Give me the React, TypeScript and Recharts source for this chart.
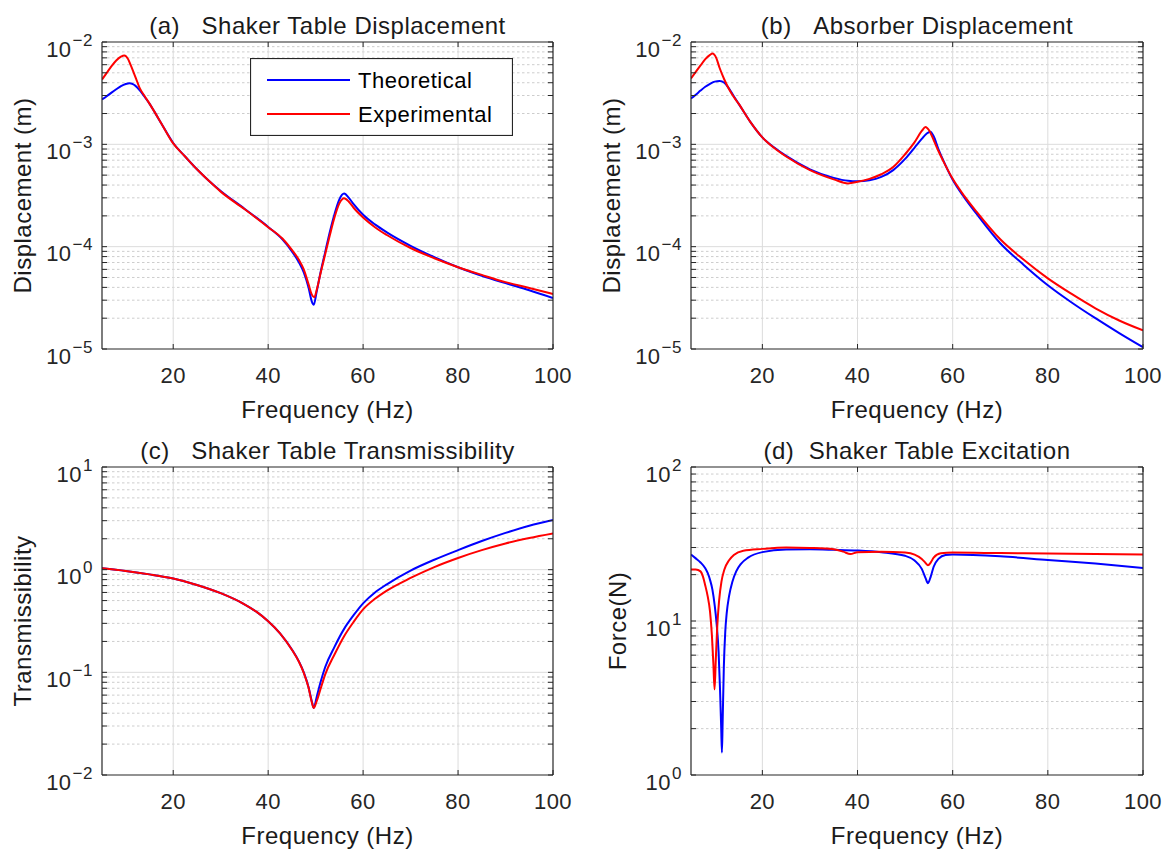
import React from 'react';
import { LineChart, Line, XAxis, YAxis, ReferenceLine, Legend } from 'recharts';

const FONT = '"Liberation Sans", Arial, Helvetica, sans-serif';
const AX = '#262626';
const TXT = '#262626';
const GRID_MAJOR = '#dcdcdc';
const GRID_MINOR = '#cdcdcd';
const BLUE = '#0000ff';
const RED = '#ff0000';
const TICK_LEN = 5;

// ---------- shared axis values ----------
const xTicks = [20, 40, 60, 80, 100];
const xGrid = [20, 40, 60, 80];
const xDomain = [5, 100];

// ---------- (a) Shaker Table Displacement ----------
const freqAT = [5, 6, 7, 8, 9, 10, 10.8, 11.5, 12, 13, 14, 15, 16, 17.5, 20, 22.5, 25, 27.5, 30, 35, 40, 43, 45, 46.5, 47.5, 48.5, 49.2, 49.6, 50.2, 51, 52, 53, 54, 55, 56, 57, 58, 60, 62.5, 65, 70, 75, 80, 85, 90, 95, 100];
const dispAT = [2.74e-3, 2.95e-3, 3.2e-3, 3.45e-3, 3.7e-3, 3.88e-3, 3.95e-3, 3.88e-3, 3.75e-3, 3.35e-3, 2.9e-3, 2.5e-3, 2.1e-3, 1.6e-3, 1.03e-3, 7.6e-4, 5.7e-4, 4.4e-4, 3.5e-4, 2.35e-4, 1.56e-4, 1.18e-4, 9.0e-5, 7.0e-5, 5.6e-5, 4.0e-5, 2.9e-5, 2.7e-5, 3.6e-5, 5.5e-5, 8.8e-5, 1.4e-4, 2.1e-4, 2.9e-4, 3.3e-4, 3.0e-4, 2.6e-4, 2.05e-4, 1.65e-4, 1.38e-4, 1.02e-4, 7.9e-5, 6.3e-5, 5.2e-5, 4.4e-5, 3.75e-5, 3.15e-5];
const freqAE = [5, 6, 7, 8, 9, 9.7, 10.5, 11, 12, 13, 14, 15, 16, 17.5, 20, 22.5, 25, 27.5, 30, 35, 40, 43, 45, 46.5, 47.5, 48.5, 49.2, 49.7, 50.3, 51, 52, 53, 54, 55, 56, 57, 58, 60, 62.5, 65, 70, 75, 80, 85, 90, 95, 100];
const dispAE = [4.3e-3, 5.0e-3, 5.8e-3, 6.6e-3, 7.2e-3, 7.4e-3, 6.8e-3, 6.0e-3, 4.6e-3, 3.5e-3, 2.95e-3, 2.5e-3, 2.1e-3, 1.6e-3, 1.02e-3, 7.6e-4, 5.7e-4, 4.4e-4, 3.45e-4, 2.33e-4, 1.55e-4, 1.2e-4, 9.3e-5, 7.4e-5, 6.0e-5, 4.3e-5, 3.4e-5, 3.2e-5, 3.9e-5, 5.4e-5, 8.4e-5, 1.3e-4, 1.95e-4, 2.65e-4, 2.97e-4, 2.75e-4, 2.4e-4, 1.93e-4, 1.55e-4, 1.3e-4, 9.7e-5, 7.7e-5, 6.3e-5, 5.3e-5, 4.5e-5, 3.95e-5, 3.45e-5];
const yMajorsA = [1e-5, 1e-4, 1e-3, 1e-2];

// ---------- (b) Absorber Displacement ----------
const freqBT = [5, 6, 7, 8, 9, 10, 11, 12, 13, 14, 15, 17.5, 20, 22.5, 25, 30, 35, 38, 40, 42.5, 45, 47.5, 50, 52, 53.5, 54.5, 55.3, 56, 57, 58, 60, 62.5, 65, 70, 75, 80, 85, 90, 95, 100];
const dispBT = [2.8e-3, 3.05e-3, 3.35e-3, 3.65e-3, 3.9e-3, 4.1e-3, 4.15e-3, 4.0e-3, 3.5e-3, 2.95e-3, 2.5e-3, 1.65e-3, 1.17e-3, 9.3e-4, 7.7e-4, 5.7e-4, 4.7e-4, 4.4e-4, 4.35e-4, 4.45e-4, 4.8e-4, 5.6e-4, 7.2e-4, 9.3e-4, 1.13e-3, 1.27e-3, 1.33e-3, 1.2e-3, 9.0e-4, 7.0e-4, 4.5e-4, 3.0e-4, 2.1e-4, 1.08e-4, 6.6e-5, 4.2e-5, 2.85e-5, 2.0e-5, 1.43e-5, 1.04e-5];
const freqBE = [5, 6, 7, 8, 9, 9.5, 10.3, 11, 12, 13, 14, 15, 17.5, 20, 22.5, 25, 30, 35, 38, 40, 42.5, 45, 47.5, 50, 52, 53.5, 54.3, 55, 56, 57, 58, 60, 62.5, 65, 70, 75, 80, 85, 90, 95, 100];
const dispBE = [4.4e-3, 5.1e-3, 5.9e-3, 6.8e-3, 7.5e-3, 7.7e-3, 7.0e-3, 5.6e-3, 4.3e-3, 3.45e-3, 2.9e-3, 2.5e-3, 1.65e-3, 1.17e-3, 9.2e-4, 7.6e-4, 5.6e-4, 4.55e-4, 4.15e-4, 4.3e-4, 4.6e-4, 5.1e-4, 6.0e-4, 8.0e-4, 1.05e-3, 1.35e-3, 1.48e-3, 1.38e-3, 1.1e-3, 8.6e-4, 6.9e-4, 4.6e-4, 3.1e-4, 2.2e-4, 1.18e-4, 7.4e-5, 4.9e-5, 3.45e-5, 2.5e-5, 1.9e-5, 1.52e-5];
const yMajorsB = [1e-5, 1e-4, 1e-3, 1e-2];

// ---------- (c) Shaker Table Transmissibility ----------
const freqC = [5, 10, 15, 20, 25, 30, 35, 37.5, 40, 42.5, 45, 46.5, 47.5, 48.5, 49.2, 49.6, 50.2, 51, 52, 54, 56, 58, 60, 62.5, 65, 70, 75, 80, 85, 90, 95, 100];
const transCT = [1.03, 0.97, 0.9, 0.82, 0.71, 0.59, 0.46, 0.39, 0.315, 0.24, 0.167, 0.127, 0.1, 0.072, 0.052, 0.045, 0.057, 0.079, 0.112, 0.178, 0.265, 0.36, 0.47, 0.6, 0.72, 0.98, 1.25, 1.55, 1.9, 2.28, 2.68, 3.05];
const transCE = [1.03, 0.97, 0.9, 0.82, 0.71, 0.59, 0.46, 0.39, 0.315, 0.24, 0.166, 0.126, 0.099, 0.071, 0.051, 0.045, 0.052, 0.068, 0.095, 0.15, 0.225, 0.31, 0.41, 0.52, 0.625, 0.83, 1.06, 1.3, 1.55, 1.8, 2.03, 2.25];
const yMajorsC = [1e-2, 1e-1, 1, 10];

// ---------- (d) Shaker Table Excitation ----------
const freqDT = [5, 6, 7, 8, 8.5, 9, 9.5, 10, 10.4, 10.8, 11.1, 11.35, 11.5, 11.65, 11.9, 12.2, 12.5, 13, 13.7, 14.5, 15.5, 17, 20, 25, 30, 35, 40, 45, 50, 52, 53.5, 54.3, 54.8, 55.4, 56, 57, 58.5, 60, 70, 80, 90, 100];
const forceDT = [27, 25.5, 24, 22, 20.5, 18.5, 16, 12.5, 9.5, 6.3, 3.6, 2.0, 1.4, 2.2, 5.0, 8.5, 11.2, 14.5, 18, 21, 23.5, 25.8, 28, 29.1, 29.2, 29, 28.7, 28, 26.5, 24.7, 21.8, 19, 17.6, 19.5, 22.5, 25.3, 26.8, 27, 26.3, 24.9, 23.6, 22.1];
const freqDE = [5, 6, 7, 7.5, 8, 8.5, 9, 9.4, 9.7, 9.95, 10.2, 10.5, 10.9, 11.4, 12, 13, 14, 16, 20, 25, 30, 35, 37, 38.5, 40, 45, 50, 52, 53.5, 54.3, 54.8, 55.4, 56, 57.5, 60, 70, 80, 90, 100];
const forceDE = [21.6, 21.6, 21, 19.5, 17, 14.5, 11.5, 8, 5.3, 3.6, 5.5, 9, 13.5, 18, 21.5, 24.8, 26.8, 28.6, 29.4, 30, 29.8, 29.2, 28.2, 27.2, 28, 28.2, 27.8, 27, 25.3, 23.8, 23, 24, 25.8, 27.5, 27.8, 27.6, 27.4, 27.2, 27];
const yMajorsD = [1, 10, 100];

const seriesNames = ['Theoretical', 'Experimental'];

type Pt = { f: number; v: number };
const zip = (f: number[], v: number[]): Pt[] => f.map((x, i) => ({ f: x, v: v[i] }));

const minorsOf = (majors: number[]) => {
  const out: number[] = [];
  for (let i = 0; i < majors.length - 1; i++) {
    for (let k = 2; k <= 9; k++) out.push(majors[i] * k);
  }
  return out;
};

const isPow10 = (v: number) => {
  const l = Math.log10(v);
  return Math.abs(l - Math.round(l)) < 1e-9;
};

// ---------- tick renderers ----------
const BottomTick = (props: any) => {
  const { x, y, payload } = props;
  return (
    <g>
      <line x1={x} x2={x} y1={y} y2={y - TICK_LEN} stroke={AX} strokeWidth={1} />
      <text x={x} y={y + 34} textAnchor="middle" fontSize={22} fontFamily={FONT} fill={TXT} letterSpacing={0.5}>
        {payload.value}
      </text>
    </g>
  );
};

const TopTick = (props: any) => {
  const { x, y } = props;
  return <line x1={x} x2={x} y1={y} y2={y + TICK_LEN} stroke={AX} strokeWidth={1} />;
};

const RightTick = (props: any) => {
  const { x, y } = props;
  return <line x1={x} x2={x - TICK_LEN} y1={y} y2={y} stroke={AX} strokeWidth={1} />;
};

const LeftTick = (props: any) => {
  const { x, y, payload } = props;
  const v = payload.value as number;
  const major = isPow10(v);
  const e = Math.round(Math.log10(v));
  const expText = e < 0 ? `\u2212${-e}` : `${e}`;
  return (
    <g>
      <line x1={x} x2={x + TICK_LEN} y1={y} y2={y} stroke={AX} strokeWidth={1} />
      {major && (
        <text x={x - 9} y={y + 14.5} textAnchor="end" fontSize={22} fontFamily={FONT} fill={TXT} letterSpacing={0.5}>
          <tspan>10</tspan>
          <tspan dx={1} dy={-11} fontSize={17}>{expText}</tspan>
        </text>
      )}
    </g>
  );
};

const LegendBox = (props: any) => {
  const items = [...(props.payload || [])].sort(
    (a: any, b: any) => seriesNames.indexOf(a.value) - seriesNames.indexOf(b.value)
  );
  return (
    <svg width={263} height={78} style={{ display: 'block' }}>
      <rect x={0.5} y={0.5} width={262} height={77} fill="#ffffff" stroke={AX} strokeWidth={1.2} />
      {items.map((it: any, i: number) => (
        <g key={it.value}>
          <line x1={17} x2={100} y1={22 + i * 34} y2={22 + i * 34} stroke={it.color} strokeWidth={2} />
          <text x={108} y={30 + i * 34} fontSize={22} fontFamily={FONT} fill="#000" letterSpacing={0.5}>
            {it.value}
          </text>
        </g>
      ))}
    </svg>
  );
};

type PanelProps = {
  left: number;
  top: number;
  width: number;
  height: number;
  yLeftW: number;
  yRightW: number;
  xTopH: number;
  xBottomH: number;
  title: string;
  yLabel: string;
  yLabelOff: number;
  yMajors: number[];
  theo: Pt[];
  expt: Pt[];
  legend?: boolean;
};

function Panel(p: PanelProps) {
  const minors = minorsOf(p.yMajors);
  const yTicks = [...p.yMajors, ...minors].sort((a, b) => a - b);
  const yDomain = [p.yMajors[0], p.yMajors[p.yMajors.length - 1]];
  const plotL = p.yLeftW;
  const plotR = p.width - p.yRightW;
  const plotT = p.xTopH;
  const plotB = p.height - p.xBottomH;
  const cx = (plotL + plotR) / 2;
  const cy = (plotT + plotB) / 2;
  const innerMajors = p.yMajors.slice(1, -1);

  const titleLabel = () => (
    <text x={cx} y={plotT - 8.5} textAnchor="middle" fontSize={24} fontFamily={FONT} fill="#1a1a1a" letterSpacing={0.5}>
      {p.title}
    </text>
  );
  const xLabel = () => (
    <text x={cx} y={plotB + 69} textAnchor="middle" fontSize={24} fontFamily={FONT} fill="#1a1a1a" letterSpacing={0.5}>
      Frequency (Hz)
    </text>
  );
  const bx = plotL - p.yLabelOff;
  const yLabel = () => (
    <text
      x={bx}
      y={cy}
      transform={`rotate(-90, ${bx}, ${cy})`}
      textAnchor="middle"
      fontSize={24}
      fontFamily={FONT}
      fill="#1a1a1a"
      letterSpacing={0.5}
    >
      {p.yLabel}
    </text>
  );

  return (
    <div style={{ position: 'absolute', left: p.left, top: p.top, width: p.width, height: p.height }}>
      <LineChart width={p.width} height={p.height} margin={{ top: 0, right: 0, bottom: 0, left: 0 }}>
        <XAxis
          xAxisId="b"
          dataKey="f"
          type="number"
          domain={xDomain}
          ticks={xTicks}
          interval={0}
          allowDataOverflow
          orientation="bottom"
          height={p.xBottomH}
          tickSize={0}
          tickMargin={0}
          tickLine={false}
          axisLine={{ stroke: AX, strokeWidth: 1.2 }}
          tick={<BottomTick />}
          label={xLabel}
        />
        <XAxis
          xAxisId="t"
          dataKey="f"
          type="number"
          domain={xDomain}
          ticks={xTicks}
          interval={0}
          allowDataOverflow
          orientation="top"
          height={p.xTopH}
          tickSize={0}
          tickMargin={0}
          tickLine={false}
          axisLine={{ stroke: AX, strokeWidth: 1.2 }}
          tick={<TopTick />}
          label={titleLabel}
        />
        <YAxis
          yAxisId="l"
          type="number"
          scale="log"
          domain={yDomain}
          ticks={yTicks}
          interval={0}
          allowDataOverflow
          orientation="left"
          width={p.yLeftW}
          tickSize={0}
          tickMargin={0}
          tickLine={false}
          axisLine={{ stroke: AX, strokeWidth: 1.2 }}
          tick={<LeftTick />}
          label={yLabel}
        />
        <YAxis
          yAxisId="r"
          type="number"
          scale="log"
          domain={yDomain}
          ticks={yTicks}
          interval={0}
          allowDataOverflow
          orientation="right"
          width={p.yRightW}
          tickSize={0}
          tickMargin={0}
          tickLine={false}
          axisLine={{ stroke: AX, strokeWidth: 1.2 }}
          tick={<RightTick />}
        />
        {minors.map((v) => (
          <ReferenceLine key={`mn${v}`} xAxisId="b" yAxisId="l" y={v} stroke={GRID_MINOR} strokeWidth={1} strokeDasharray="2.5 2.5" />
        ))}
        {innerMajors.map((v) => (
          <ReferenceLine key={`mj${v}`} xAxisId="b" yAxisId="l" y={v} stroke={GRID_MAJOR} strokeWidth={1} />
        ))}
        {xGrid.map((v) => (
          <ReferenceLine key={`gx${v}`} xAxisId="b" yAxisId="l" x={v} stroke={GRID_MAJOR} strokeWidth={1} />
        ))}
        <Line
          name={seriesNames[0]}
          data={p.theo}
          dataKey="v"
          xAxisId="b"
          yAxisId="l"
          type="monotone"
          stroke={BLUE}
          strokeWidth={2}
          dot={false}
          activeDot={false}
          isAnimationActive={false}
        />
        <Line
          name={seriesNames[1]}
          data={p.expt}
          dataKey="v"
          xAxisId="b"
          yAxisId="l"
          type="monotone"
          stroke={RED}
          strokeWidth={2}
          dot={false}
          activeDot={false}
          isAnimationActive={false}
        />
        {p.legend && (
          <Legend
            layout="vertical"
            align="center"
            verticalAlign="middle"
            content={LegendBox}
            wrapperStyle={{ left: 250, top: 58, width: 263, height: 78, margin: 0, padding: 0 }}
          />
        )}
      </LineChart>
    </div>
  );
}

export default function App() {
  return (
    <div
      style={{
        position: 'absolute',
        left: 0,
        top: 0,
        width: 1164,
        height: 851,
        background: '#ffffff',
        fontFamily: FONT,
        overflow: 'hidden',
      }}
    >
      <Panel
        left={0}
        top={0}
        width={582}
        height={425}
        yLeftW={102}
        yRightW={29}
        xTopH={42}
        xBottomH={76}
        title={'(a)\u00a0\u00a0\u00a0Shaker Table Displacement'}
        yLabel="Displacement (m)"
        yLabelOff={71}
        yMajors={yMajorsA}
        theo={zip(freqAT, dispAT)}
        expt={zip(freqAE, dispAE)}
        legend
      />
      <Panel
        left={582}
        top={0}
        width={582}
        height={425}
        yLeftW={109}
        yRightW={21}
        xTopH={42}
        xBottomH={76}
        title={'(b)\u00a0\u00a0\u00a0Absorber Displacement'}
        yLabel="Displacement (m)"
        yLabelOff={71}
        yMajors={yMajorsB}
        theo={zip(freqBT, dispBT)}
        expt={zip(freqBE, dispBE)}
      />
      <Panel
        left={0}
        top={425}
        width={582}
        height={426}
        yLeftW={102}
        yRightW={29}
        xTopH={42}
        xBottomH={76}
        title={'(c)\u00a0\u00a0\u00a0Shaker Table Transmissibility'}
        yLabel="Transmissibility"
        yLabelOff={71}
        yMajors={yMajorsC}
        theo={zip(freqC, transCT)}
        expt={zip(freqC, transCE)}
      />
      <Panel
        left={582}
        top={425}
        width={582}
        height={426}
        yLeftW={109}
        yRightW={21}
        xTopH={42}
        xBottomH={76}
        title={'(d)\u00a0\u00a0Shaker Table Excitation'}
        yLabel="Force(N)"
        yLabelOff={65}
        yMajors={yMajorsD}
        theo={zip(freqDT, forceDT)}
        expt={zip(freqDE, forceDE)}
      />
    </div>
  );
}
